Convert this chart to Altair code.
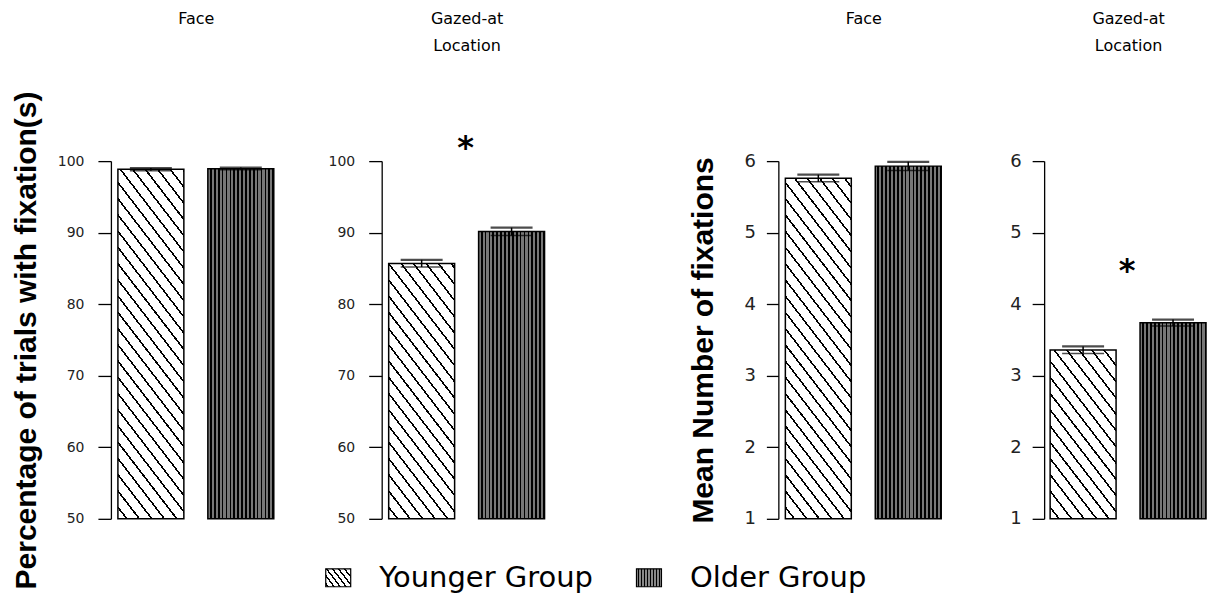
import math
import altair as alt
import pandas as pd

# ---------------- data ----------------
groups = ["Younger Group", "Older Group"]
panel_titles = [["Face"], ["Gazed-at", "Location"], ["Face"], ["Gazed-at", "Location"]]
y_titles = ["Percentage of trials with fixation(s)", "Mean Number of fixations"]

pct_face_mean = [98.85, 98.95]
pct_face_se = [0.18, 0.15]
pct_gaze_mean = [85.7, 90.15]
pct_gaze_se = [0.5, 0.55]
num_face_mean = [5.76, 5.93]
num_face_se = [0.05, 0.06]
num_gaze_mean = [3.36, 3.74]
num_gaze_se = [0.05, 0.045]

pct_ticks = [50, 60, 70, 80, 90, 100]
num_ticks = [1, 2, 3, 4, 5, 6]
star_pct_gaze = 100.5
star_num_gaze = 4.32

# ---------------- style ----------------
FONT = "DejaVu Sans"
TITLE_FONT = "Liberation Sans"
PLOT_H = 358
BAR_STEP = 90
BAR_W = 66
SLOPE = 1.3


def stripe_stops(L, period, dark_w, dark, light, phase=0.0):
    stops = []
    pos = -phase
    while pos < L:
        for w, c in ((period - dark_w, light), (dark_w, dark)):
            a, b = max(pos, 0.0), min(pos + w, L)
            if b > a:
                stops.append({"offset": round(a / L, 5), "color": c})
                stops.append({"offset": round(b / L, 5), "color": c})
            pos += w
    return stops


def diag_grad(w, h, hspace, lw, s=SLOPE):
    k = (s * w + h) / (s * s * w * w + h * h)
    L = (s * w + h) / math.sqrt(1 + s * s)
    P = hspace * s / math.sqrt(1 + s * s)
    return {"gradient": "linear", "x1": 0, "y1": 1, "x2": k * s * w, "y2": 1 - k * h,
            "stops": stripe_stops(L, P, lw, "#000000", "#ffffff", phase=2.0)}


def vert_grad(w, period, lw, light="#777777"):
    return {"gradient": "linear", "x1": 0, "y1": 0, "x2": 1, "y2": 0,
            "stops": stripe_stops(w, period, lw, "#000000", light)}


OLD_GRAD = vert_grad(BAR_W, 3.9, 1.7)


def panel(means, ses, title, ymin, ymax, ticks, ytitle, title_x, star, width, lead,
          label_size, tick_size, label_pad):
    df = pd.DataFrame({"group": groups, "mean": means, "se": ses})
    df["lo"] = df["mean"] - df["se"]
    df["hi"] = df["mean"] + df["se"]
    df["base"] = ymin
    pi = (BAR_STEP - BAR_W) / BAR_STEP
    po = (width / BAR_STEP - (2 - pi)) / 2
    align = lead / (width - (2 - pi) * BAR_STEP)
    xsc = alt.Scale(domain=groups, paddingInner=pi, paddingOuter=po, align=align)
    center = lead + BAR_STEP - (BAR_STEP - BAR_W) / 2
    xaxis = alt.Axis(orient="top", labels=False, ticks=False, domain=False,
                     titleX=center, titleY=-137.5, titleFont=FONT, titleFontSize=16,
                     titleFontWeight="normal", titleColor="black", titleLineHeight=27,
                     titleBaseline="alphabetic", titleAlign="center", titleAngle=0)

    def X(**kw):
        return alt.X("group:N", sort=groups, scale=xsc, axis=xaxis, title=title, **kw)

    ysc = alt.Scale(domain=[ymin, ymax], nice=False, zero=False)
    common = dict(values=ticks, labelFontSize=label_size, tickSize=tick_size, labelPadding=label_pad)
    if ytitle:
        yaxis = alt.Axis(titleX=title_x, titleBaseline="alphabetic", **common)
    else:
        yaxis = alt.Axis(**common)

    def Y(f):
        return alt.Y(f"{f}:Q", scale=ysc, axis=yaxis, title=ytitle if ytitle else None)

    base = alt.Chart(df)
    h_y = (means[0] - ymin) / (ymax - ymin) * PLOT_H
    young = base.transform_filter(alt.datum.group == groups[0]).mark_bar(
        fill=diag_grad(BAR_W, h_y, 12.5, 1.6), stroke="black", strokeWidth=1.5
    ).encode(x=X(), y=Y("mean"), y2="base:Q")
    old = base.transform_filter(alt.datum.group == groups[1]).mark_bar(
        fill=OLD_GRAD, stroke="black", strokeWidth=1.5
    ).encode(x=X(), y=Y("mean"), y2="base:Q")
    rule = base.mark_rule(color="black", strokeWidth=1.5).encode(x=X(), y=Y("lo"), y2="hi:Q")
    cap_lo = base.mark_tick(color="black", size=42, thickness=1.5).encode(x=X(), y=Y("lo"))
    cap_hi = base.mark_tick(color="black", size=42, thickness=2.2).encode(x=X(), y=Y("hi"))
    layers = [young, old, rule, cap_lo, cap_hi]
    if star is not None:
        sdf = pd.DataFrame({"group": [groups[1]], "y": [star], "label": ["*"]})
        layers.append(
            alt.Chart(sdf).mark_text(fontSize=32, fontWeight="bold", font=FONT,
                                     baseline="alphabetic", align="center", color="black",
                                     dx=-(BAR_STEP - BAR_W) / 2 - 1)
            .encode(x=X(bandPosition=0), y=Y("y"), text="label:N")
        )
    return alt.layer(*layers).properties(width=width, height=PLOT_H)


W1, W2, W3, W4 = 173, 299, 168, 162
p1 = panel(pct_face_mean, pct_face_se, panel_titles[0], 50, 100, pct_ticks, y_titles[0], -75,
           None, W1, 7, 14, 13, 14)
p2 = panel(pct_gaze_mean, pct_gaze_se, panel_titles[1], 50, 100, pct_ticks, None, 0,
           star_pct_gaze, W2, 7, 14, 13, 14)
p3 = panel(num_face_mean, num_face_se, panel_titles[2], 1, 6, num_ticks, y_titles[1], -66,
           None, W3, 7, 18, 12, 11)
p4 = panel(num_gaze_mean, num_gaze_se, panel_titles[3], 1, 6, num_ticks, None, 0,
           star_num_gaze, W4, 6, 18, 12, 11)

# ---------------- legend ----------------
leg_df = pd.DataFrame({"group": groups})
lsc = alt.Scale(type="point", domain=groups, range=[227.5, 538.5], padding=0)
LX = alt.X("group:N", sort=groups, scale=lsc, axis=None)
leg_young = alt.Chart(leg_df).transform_filter(alt.datum.group == groups[0]).mark_bar(
    width=25, fill=diag_grad(25, 18, 6.0, 1.4), stroke="black", strokeWidth=1.2
).encode(x=LX)
leg_old = alt.Chart(leg_df).transform_filter(alt.datum.group == groups[1]).mark_bar(
    width=25, fill=vert_grad(25, 3.0, 1.4, light="#888888"), stroke="black", strokeWidth=1.2
).encode(x=LX)
leg_text = alt.Chart(leg_df).mark_text(
    align="left", baseline="middle", dx=41, fontSize=29, font=FONT, color="black"
).encode(x=LX, text="group:N")
legend = alt.layer(leg_young, leg_old, leg_text).properties(width=W1, height=18)

chart = alt.concat(
    p1, p2, p3, p4, legend, columns=4,
    spacing={"row": 50, "column": 98}, bounds="flush", align="each",
).properties(
    padding={"left": 3, "top": 2, "right": 0, "bottom": 0}
).configure(font=FONT).configure_view(stroke="transparent").configure_axis(
    labelFont=FONT, labelColor="#222222",
    domainColor="black", domainWidth=1.3, tickColor="black", tickWidth=1.3,
    grid=False,
    titleFont=TITLE_FONT, titleFontSize=30, titleFontWeight="bold", titleColor="black",
)

chart.save("out.html", embed_options={"renderer": "svg", "actions": False})
